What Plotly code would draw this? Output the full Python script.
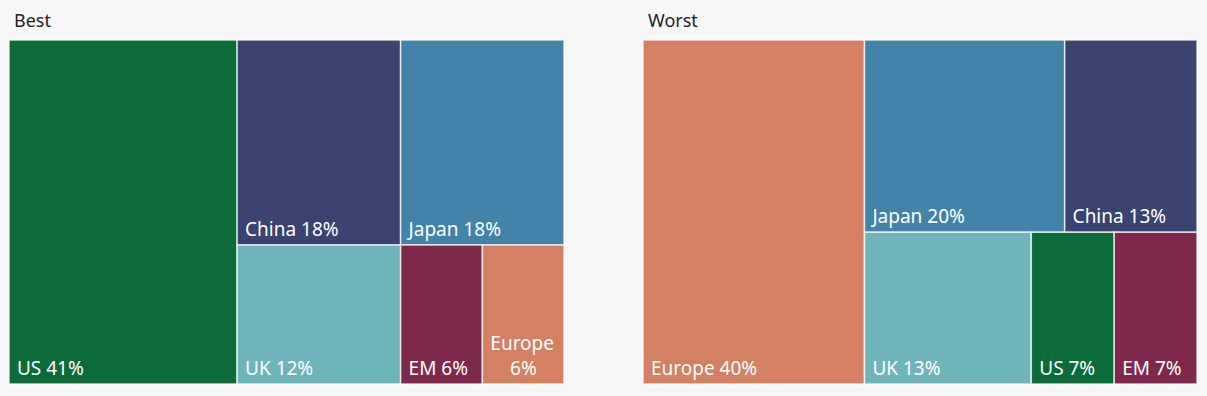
import plotly.graph_objects as go

best_labels = ["US", "China", "Japan", "UK", "EM", "Europe"]
best_values = [41.1, 17.56, 17.55, 11.9, 5.95, 5.94]
best_shown = [41, 18, 18, 12, 6, 6]
worst_labels = ["Europe", "Japan", "China", "UK", "US", "EM"]
worst_values = [40.0, 20.2, 13.35, 13.3, 6.61, 6.6]
worst_shown = [40, 20, 13, 13, 7, 7]

region_colors = {
    "US": "#0c6b38",
    "China": "#3b4370",
    "Japan": "#4383aa",
    "UK": "#6fb4bb",
    "EM": "#7e294b",
    "Europe": "#d48063",
}

W, H = 1207, 396
BG = "#f7f7f7"


def make_tm(labels, values, shown, x0, x1, templates):
    return go.Treemap(
        labels=labels,
        parents=[""] * len(labels),
        values=values,
        customdata=shown,
        sort=True,
        texttemplate=templates,
        textposition="bottom left",
        textfont=dict(family="Noto Sans", size=19, color="white"),
        marker=dict(
            colors=[region_colors[l] for l in labels],
            line=dict(color="rgba(255,255,255,0.75)", width=1.5),
            pad=dict(t=0, l=0, r=0, b=0),
        ),
        tiling=dict(packing="squarify", pad=0),
        pathbar=dict(visible=False),
        hovertemplate="%{label} %{customdata}%<extra></extra>",
        domain=dict(x=[x0 / W, x1 / W], y=[1 - 384 / H, 1 - 40 / H]),
    )


std = "&nbsp;%{label} %{customdata}%"
best_tpl = [std if l != "Europe" else "&nbsp;%{label}<br>&nbsp;&nbsp;&nbsp;&nbsp;&nbsp;%{customdata}%" for l in best_labels]
worst_tpl = [std for _ in worst_labels]

fig = go.Figure()
fig.add_trace(make_tm(best_labels, best_values, best_shown, 9, 564, best_tpl))
fig.add_trace(make_tm(worst_labels, worst_values, worst_shown, 643, 1197, worst_tpl))

fig.update_layout(
    width=W,
    height=H,
    margin=dict(l=0, r=0, t=0, b=0),
    paper_bgcolor=BG,
    plot_bgcolor=BG,
    font=dict(family="Noto Sans", color="#222222"),
    annotations=[
        dict(text="Best", x=12 / W, y=1 - 20 / H, xref="paper", yref="paper",
             xanchor="left", yanchor="middle", showarrow=False,
             font=dict(size=18, color="#222222")),
        dict(text="Worst", x=646 / W, y=1 - 20 / H, xref="paper", yref="paper",
             xanchor="left", yanchor="middle", showarrow=False,
             font=dict(size=18, color="#222222")),
    ],
)

fig.write_html(
    "out.html",
    config={"displayModeBar": False},
    post_script="document.body.style.margin='0';document.body.style.background='#f7f7f7';",
)
